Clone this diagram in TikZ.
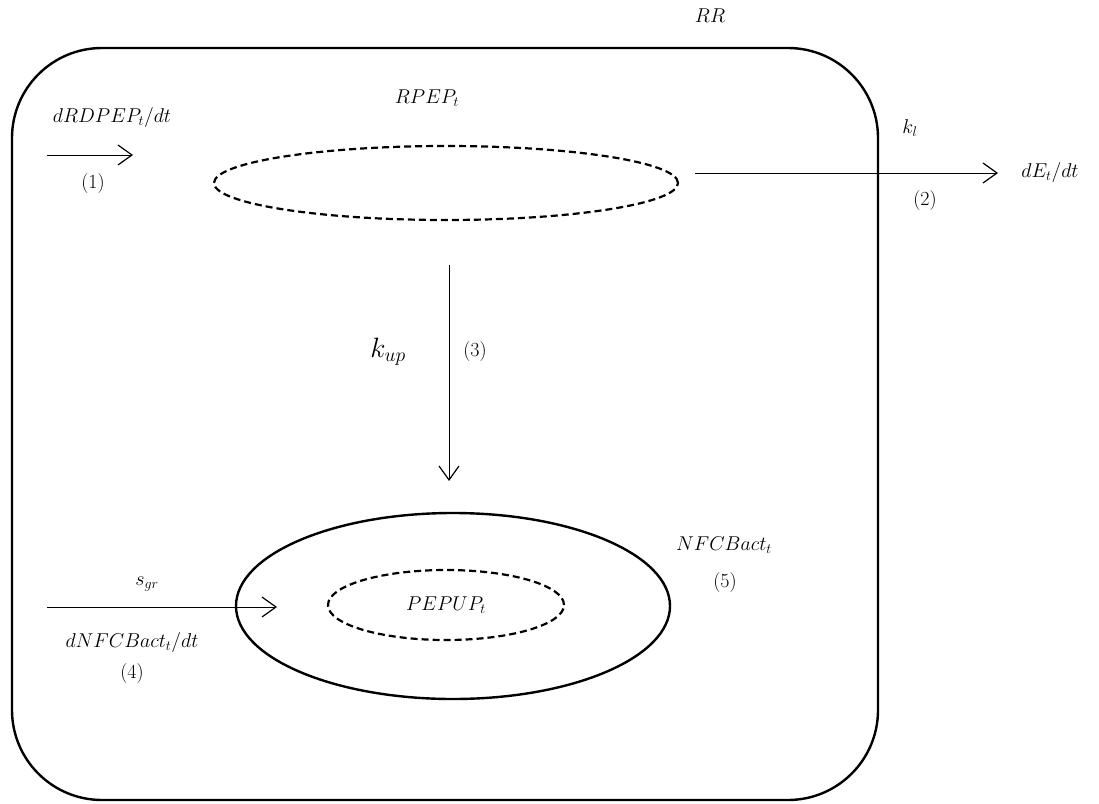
\RequirePackage{fix-cm}
\documentclass[tikz,border=0pt]{standalone}
\usetikzlibrary{arrows.meta,shapes.geometric}
\begin{document}
\begin{tikzpicture}[x=1pt,y=-1pt,
  lbl/.style={inner sep=0pt,font=\fontsize{20}{24}\selectfont},
  flow/.style={line width=1pt,-{Straight Barb[length=14pt,width=20pt,line width=1.2pt]}},
  dashedell/.style={draw,ellipse,inner sep=0pt,dash pattern=on 7pt off 4pt,line width=2.2pt},
  solidell/.style={draw,ellipse,inner sep=0pt,line width=2.4pt}]
\useasboundingbox (0,0) rectangle (1099,803);
% outer compartment
\draw[line width=2.4pt,rounded corners=90pt] (12,48) rectangle (878,800);
\node[lbl] (RR) at (710,16) {$RR$};
% RPEP ellipse
\node[dashedell,minimum width=464pt,minimum height=74pt] (RPEP) at (446,183) {};
\node[lbl] (RPEPlab) at (427,98) {$RPEP_t$};
% NFCBact ellipse
\node[solidell,minimum width=434pt,minimum height=186pt] (NFC) at (453,606) {};
\node[lbl] (NFClab) at (724,545) {$NFCBact_t$};
\node[lbl] (n5) at (725,583) {(5)};
% PEPUP ellipse
\node[dashedell,minimum width=236pt,minimum height=70pt,font=\fontsize{20}{24}\selectfont] (PEPUP) at (446,605) {$PEPUP_t$};
% arrow 1
\coordinate (a1s) at (47,155);
\coordinate (a1e) at (133,155);
\draw[flow] (a1s) -- (a1e);
\node[lbl] (l1) at (112,117) {$dRDPEP_t/dt$};
\node[lbl] (n1) at (93,184) {(1)};
% arrow 2
\coordinate (a2s) at (695,173);
\coordinate (a2e) at (998,173);
\draw[flow] (a2s) -- (a2e);
\node[lbl] (kl) at (910,128) {$k_l$};
\node[lbl] (dE) at (1050,172) {$dE_t/dt$};
\node[lbl] (n2) at (925,201) {(2)};
% arrow 3
\coordinate (a3s) at (449,265);
\coordinate (a3e) at (449,481);
\draw[flow] (a3s) -- (a3e);
\node[lbl,font=\fontsize{28}{33}\selectfont] (kup) at (388,352) {$k_{up}$};
\node[lbl] (n3) at (475,352) {(3)};
% arrow 4
\coordinate (a4s) at (47,607);
\coordinate (a4e) at (277,607);
\draw[flow] (a4s) -- (a4e);
\node[lbl] (sgr) at (147,584) {$s_{gr}$};
\node[lbl] (dN) at (132,642) {$dNFCBact_t/dt$};
\node[lbl] (n4) at (132,673) {(4)};
\end{tikzpicture}
\end{document}
